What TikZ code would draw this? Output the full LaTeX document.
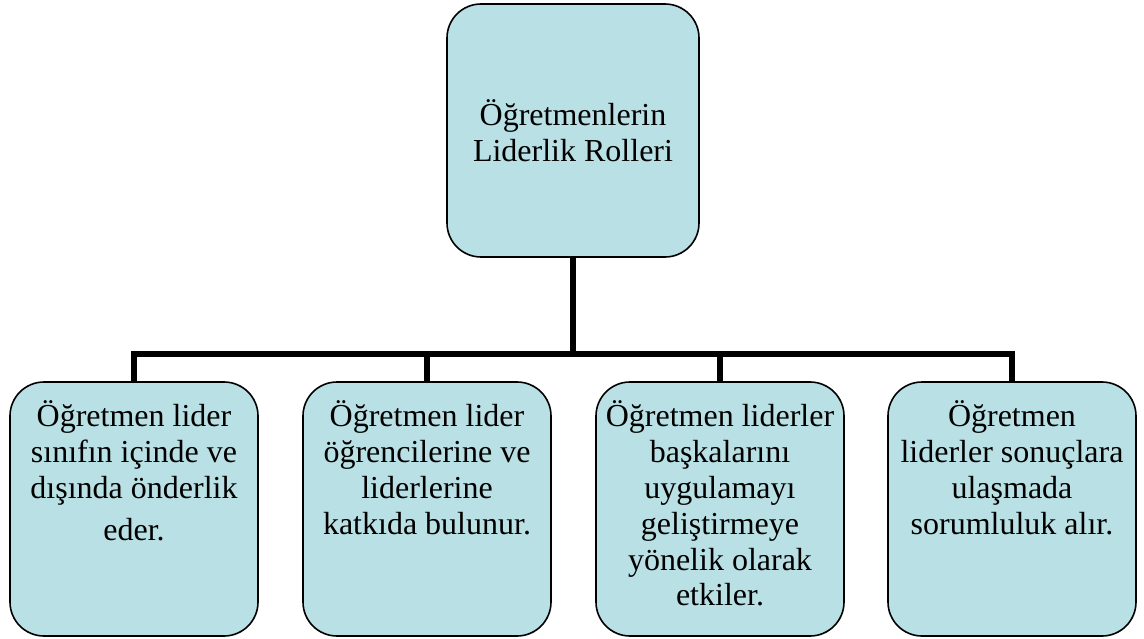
\documentclass[tikz,border=0pt]{standalone}
\usepackage{fontspec}
\setmainfont{Liberation Serif}
\definecolor{boxfill}{RGB}{185,224,228}
\tikzset{
  rolebox/.style={draw=black, line width=1.6pt, fill=boxfill, rounded corners=34pt,
    inner sep=0pt, outer sep=0pt},
  conn/.style={draw=black, line width=6pt, line join=miter, line cap=butt},
}
\newcommand{\boxtext}[1]{\parbox[c][254pt][t]{248pt}{\centering\fontsize{32}{35.8}\selectfont\vspace*{19pt}#1\par}}
\begin{document}
\begin{tikzpicture}[x=1pt,y=-1pt]
\useasboundingbox (0,0) rectangle (1144,639);
% root of the chart
\node[rolebox] (top) at (573,130.5)
  {\parbox[c][253pt][c]{252pt}{\centering\fontsize{32}{36.5}\selectfont Öğretmenlerin\\Liderlik Rolleri\par}};
% the four roles
\node[rolebox] (c1) at (134,509) {\boxtext{Öğretmen lider\\sınıfın içinde ve\\dışında önderlik\\[6pt]eder.}};
\node[rolebox] (c2) at (427,509) {\boxtext{Öğretmen lider\\öğrencilerine ve\\liderlerine\\katkıda bulunur.}};
\node[rolebox] (c3) at (720,509) {\boxtext{Öğretmen liderler\\başkalarını\\uygulamayı\\geliştirmeye\\yönelik olarak\\etkiler.}};
\node[rolebox] (c4) at (1012,509) {\boxtext{Öğretmen\\liderler sonuçlara\\ulaşmada\\sorumluluk alır.}};
% branching connectors
\coordinate (bus) at (573,354);
\foreach \c in {c1,c2,c3,c4}
  \draw[conn] (top.south) -- (top.south |- bus) -| (\c.north);
\end{tikzpicture}
\end{document}
